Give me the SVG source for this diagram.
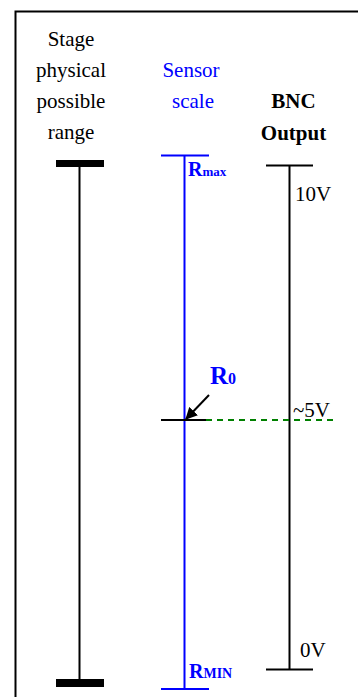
<svg xmlns="http://www.w3.org/2000/svg" width="358" height="697" viewBox="0 0 358 697" font-family="'Liberation Serif', 'Times New Roman', 'DejaVu Serif', serif">
<style>
text { font-family: 'Liberation Serif', 'Times New Roman', 'DejaVu Serif', serif; }
.t { font-size: 21px; fill: #000; }
.b { font-size: 21px; fill: #0000ff; }
.bold { font-weight: bold; }
.k { stroke: #000; stroke-width: 2; fill: none; }
.bl { stroke: #0000ff; stroke-width: 2; fill: none; }
</style>
<defs>
<marker id="ah" markerWidth="12" markerHeight="12" refX="11" refY="6" orient="auto" markerUnits="userSpaceOnUse">
<path d="M0,0 L12,6 L0,12 Z" fill="#000"/>
</marker>
</defs>
<rect width="358" height="697" fill="#fff"/>
<path d="M15.5,700 V11.5 H360" class="k"/>
<g id="stage">
<text class="t" x="71" y="46" text-anchor="middle">Stage</text>
<text class="t" x="71" y="77" text-anchor="middle">physical</text>
<text class="t" x="71" y="108" text-anchor="middle">possible</text>
<text class="t" x="71" y="139" text-anchor="middle">range</text>
<rect x="56" y="160" width="48" height="7" fill="#000"/>
<rect x="56" y="679" width="48" height="8" fill="#000"/>
<line x1="79.5" y1="164" x2="79.5" y2="682" class="k"/>
</g>
<g id="sensor">
<text class="b" x="191" y="77" text-anchor="middle">Sensor</text>
<text class="b" x="193" y="108" text-anchor="middle">scale</text>
<line x1="161" y1="155.5" x2="209" y2="155.5" class="bl"/>
<line x1="161" y1="689" x2="209" y2="689" class="bl"/>
<line x1="184.5" y1="155" x2="184.5" y2="689" class="bl"/>
<text x="188" y="176" class="bold" font-size="20" fill="#0000ff">R<tspan font-size="13">max</tspan></text>
<text x="189" y="678" class="bold" font-size="20" fill="#0000ff">R<tspan font-size="14">MIN</tspan></text>
</g>
<g id="bnc">
<text class="t bold" x="293.5" y="108" text-anchor="middle">BNC</text>
<text class="t bold" x="293.5" y="140" text-anchor="middle">Output</text>
<line x1="266" y1="165.5" x2="313" y2="165.5" class="k"/>
<line x1="266" y1="669.5" x2="313" y2="669.5" class="k"/>
<line x1="289.5" y1="165" x2="289.5" y2="670" class="k"/>
<text class="t" x="295" y="201" font-size="20">10V</text>
<text class="t" x="300" y="657" font-size="20">0V</text>
<text class="t" x="293" y="417" font-size="20">~5V</text>
</g>
<g id="r0">
<text x="210" y="384" class="bold" font-size="25" fill="#0000ff">R<tspan font-size="16">0</tspan></text>
</g>
<g id="connectors">
<line x1="161" y1="420" x2="206" y2="420" class="k"/>
<line x1="206" y1="420" x2="338" y2="420" stroke="#008000" stroke-width="2" stroke-dasharray="6,5"/>
<line x1="209" y1="395" x2="186" y2="419" stroke="#000" stroke-width="2" marker-end="url(#ah)"/>
</g>
</svg>
